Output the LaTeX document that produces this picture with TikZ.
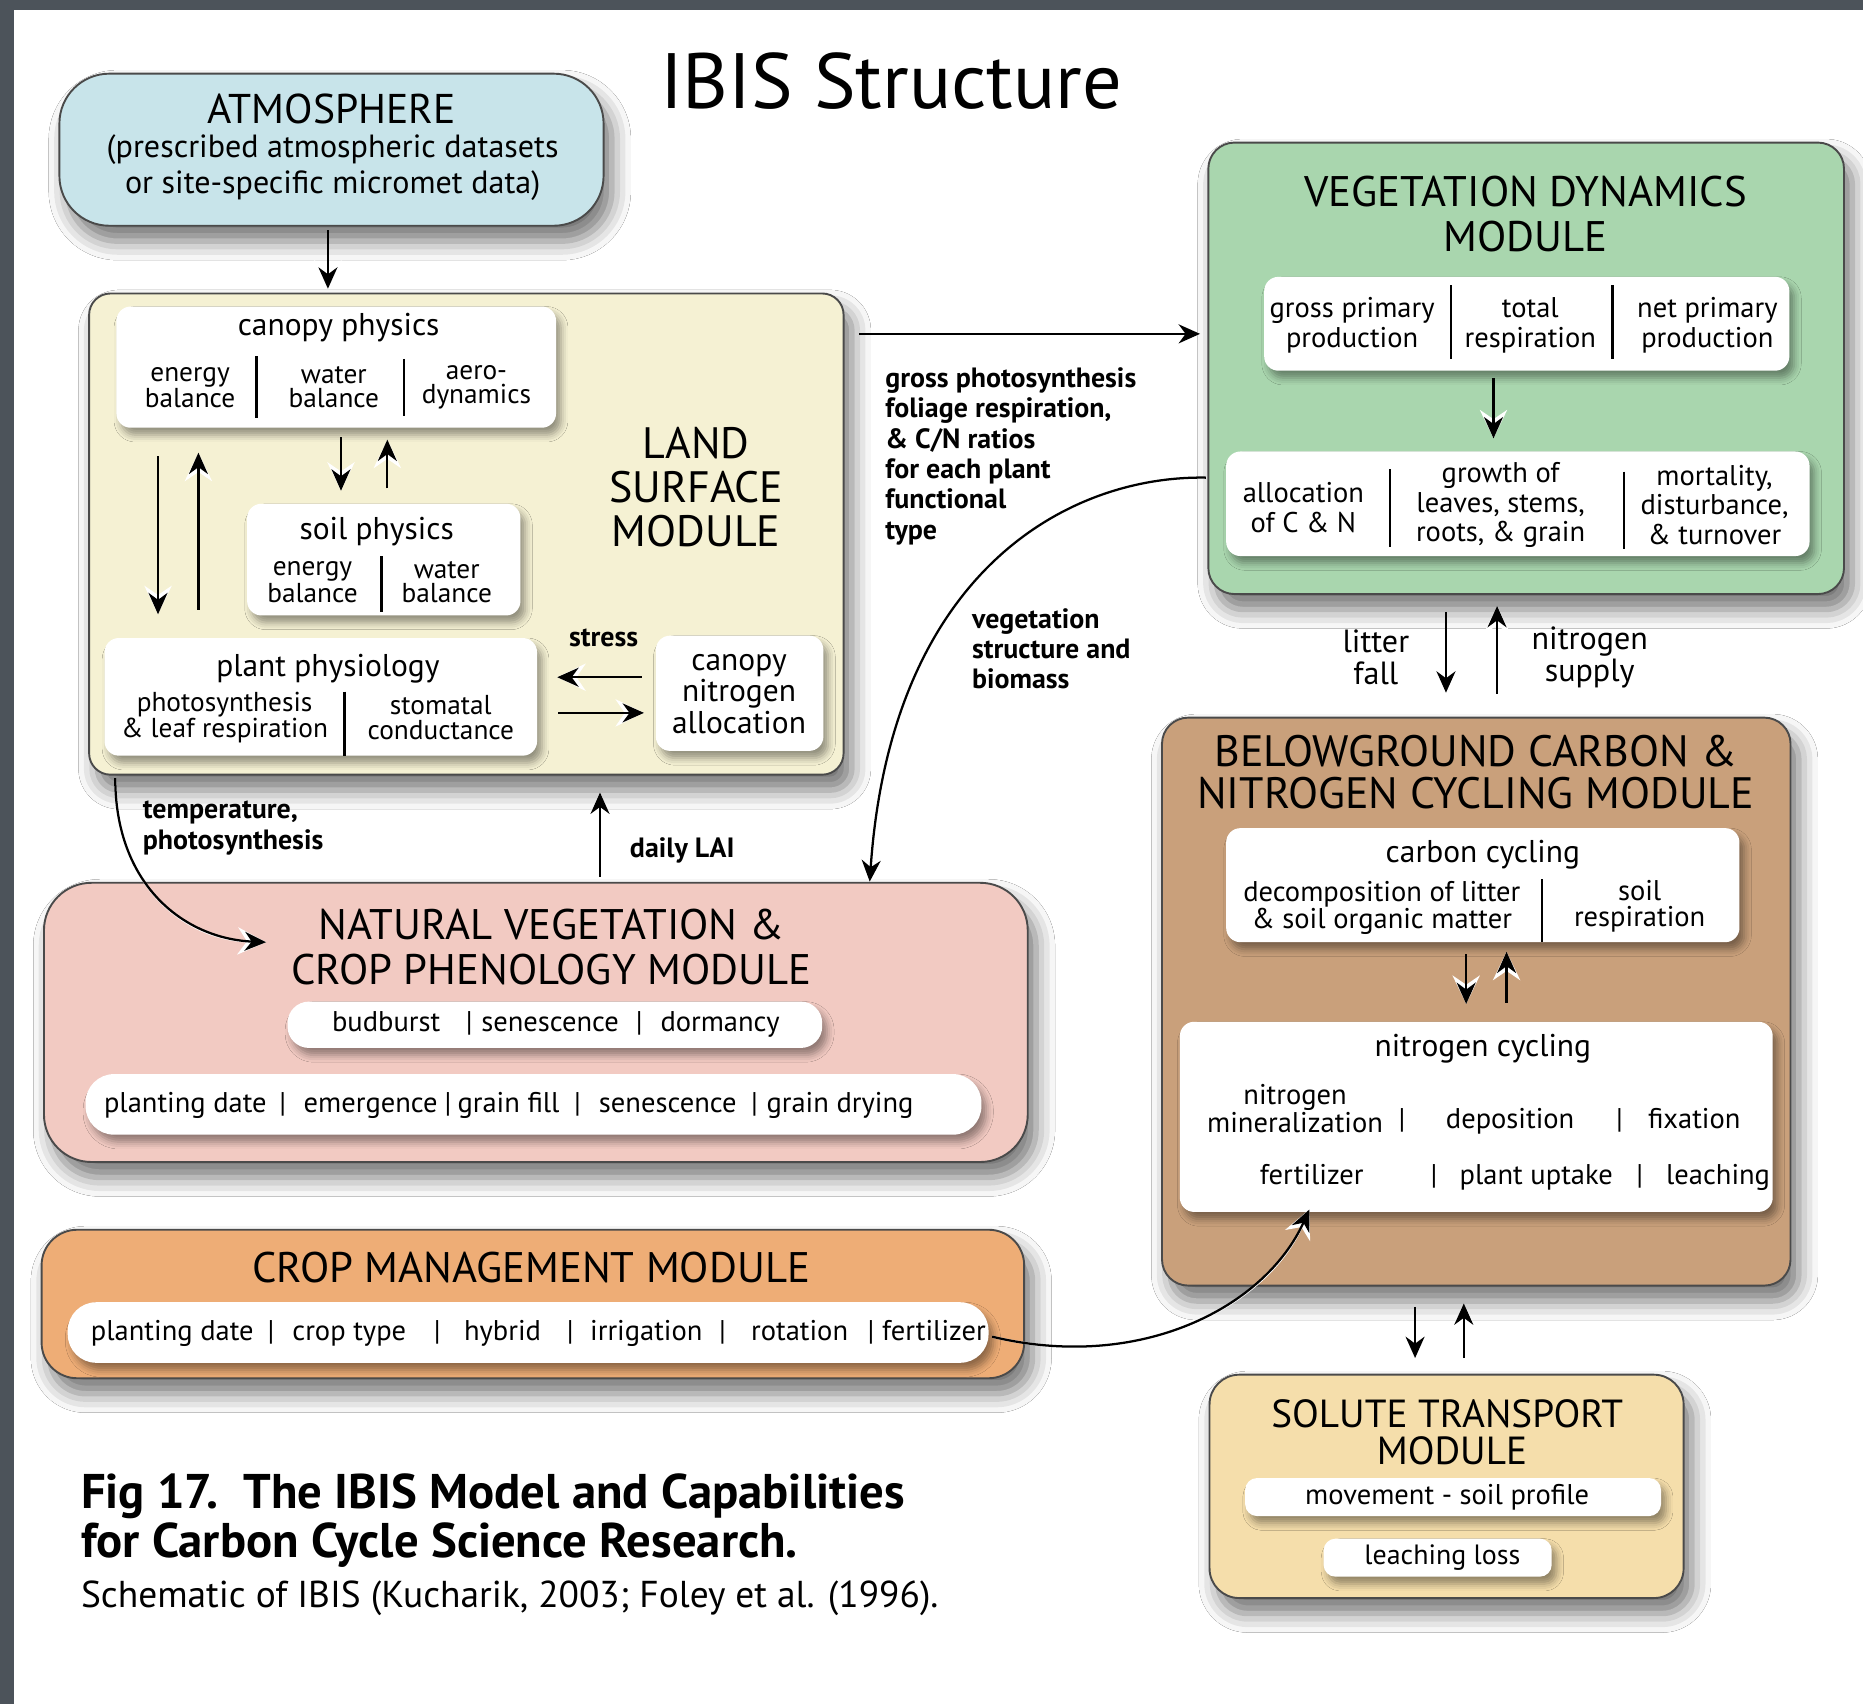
\documentclass[tikz,border=0pt]{standalone}
\usepackage{fontspec}
\setmainfont{PT Sans}
\usetikzlibrary{arrows.meta,shadows.blur}
\definecolor{pagegray}{HTML}{4C535A}
\definecolor{bordc}{HTML}{4A4A4A}
\definecolor{atmc}{HTML}{C8E4EA}
\definecolor{landc}{HTML}{F5F1D3}
\definecolor{vdc}{HTML}{A9D6AE}
\definecolor{bgc}{HTML}{C9A07B}
\definecolor{soluc}{HTML}{F5DEAB}
\definecolor{natc}{HTML}{F2CAC2}
\definecolor{cropc}{HTML}{EEAD76}
\newcommand\fTitle{\fontsize{66}{70}\selectfont}
\newcommand\fMod{\fontsize{36}{38}\selectfont}
\newcommand\fAtm{\fontsize{27}{31}\selectfont}
\newcommand\fSub{\fontsize{26.5}{28}\selectfont}
\newcommand\fItem{\fontsize{23}{20.5}\selectfont}
\newcommand\fItemB{\fontsize{24}{25}\selectfont}
\newcommand\fLab{\bfseries\fontsize{23.5}{25.5}\selectfont}
\newcommand\fMid{\fontsize{27}{27}\selectfont}
\newcommand\fRow{\fontsize{24}{26}\selectfont}
\newcommand\fNit{\fontsize{24}{23}\selectfont}
\begin{document}
\begin{tikzpicture}[x=1pt,y=-1pt,
  mod/.style={draw=bordc, line width=1.6pt, inner sep=0pt, outer sep=0pt, anchor=north west,
    blur shadow={shadow xshift=7pt, shadow yshift=-13pt, shadow blur radius=16pt, shadow opacity=55}},
  wbox/.style={fill=white, draw=none, rounded corners=12pt, inner sep=0pt, outer sep=0pt, anchor=north west,
    blur shadow={shadow xshift=4pt, shadow yshift=-6pt, shadow blur radius=6pt, shadow opacity=40}},
  txt/.style={inner sep=0pt, align=center, text=black},
  rowt/.style={inner sep=0pt, text=black, font=\fRow, text height=17pt, text depth=5pt},
  nitt/.style={inner sep=0pt, text=black, font=\fNit, text height=17pt, text depth=5pt},
  ltxt/.style={inner sep=0pt, align=left, anchor=west, text=black},
  arr/.style={line width=1.9pt, -{Stealth[length=18pt,width=16pt]},
    preaction={draw=white, line width=1.9pt, -{Stealth[length=24pt,width=23pt]}}},
  sepl/.style={line width=2pt}]
\useasboundingbox (0,0) rectangle (1568,1434);
\fill[pagegray] (0,0) rectangle (1568,1434);
\fill[white] (12,8) rectangle (1568,1434);

% title
\node[txt, font=\fTitle] (title) at (750,68) {IBIS Structure};

% ---------- ATMOSPHERE ----------
\node[mod, fill=atmc, rounded corners=42pt, minimum width=458, minimum height=128] (atm) at (50,62) {};
\node[txt, font=\fontsize{35}{37}\selectfont] (atmT) at (279,92) {ATMOSPHERE};
\node[txt, font=\fAtm] (atmD) at (280,141) {(prescribed atmospheric datasets\\or site-specific micromet data)};

% ---------- LAND SURFACE ----------
\node[mod, fill=landc, rounded corners=18pt, minimum width=635, minimum height=405] (land) at (75,247) {};
\node[txt, font=\fontsize{37}{37}\selectfont] (landT) at (586,410) {LAND\\SURFACE\\MODULE};

\node[wbox, minimum width=370, minimum height=102] (canopy) at (98,258) {};
\node[txt, font=\fSub] (canopyT) at (285,276) {canopy physics};
\node[txt, font=\fItem] (cEB) at (160,326) {energy\\balance};
\node[txt, font=\fItem] (cWB) at (281,326) {water\\balance};
\node[txt, font=\fItem] (cAD) at (401,326) {aero-\\dynamics};
\draw[sepl] (216,300) -- (216,352);
\draw[sepl] (340,302) -- (340,350);

\node[wbox, minimum width=230, minimum height=94] (soil) at (208,424) {};
\node[txt, font=\fSub] (soilT) at (317,447) {soil physics};
\node[txt, font=\fItem] (sEB) at (263,490) {energy\\balance};
\node[txt, font=\fItem] (sWB) at (376,490) {water\\balance};
\draw[sepl] (321,468) -- (321,515);

\node[wbox, minimum width=364, minimum height=99] (plant) at (88,537) {};
\node[txt, font=\fSub] (plantT) at (276,563) {plant physiology};
\node[txt, font=\fItem] (pPS) at (189,604) {photosynthesis\\\& leaf respiration};
\node[txt, font=\fItem] (pSC) at (371,604) {stomatal\\conductance};
\draw[sepl] (290,582) -- (290,636);

\node[wbox, minimum width=141, minimum height=97] (cna) at (552,535) {};
\node[txt, font=\fontsize{26.5}{26.5}\selectfont] (cnaT) at (622,584) {canopy\\nitrogen\\allocation};
\node[txt, font=\fLab] (stress) at (508,537) {stress};

% ---------- VEGETATION DYNAMICS ----------
\node[mod, fill=vdc, rounded corners=22pt, minimum width=535, minimum height=380] (vd) at (1017,120) {};
\node[txt, font=\fMod] (vdT) at (1284,180) {VEGETATION DYNAMICS\\MODULE};
\node[wbox, minimum width=442, minimum height=79] (gpp) at (1064,233) {};
\node[txt, font=\fItemB] (gppA) at (1138,274) {gross primary\\production};
\node[txt, font=\fItemB] (gppB) at (1288,274) {total\\respiration};
\node[txt, font=\fItemB] (gppC) at (1437,274) {net primary\\production};
\draw[sepl] (1221,240) -- (1221,302);
\draw[sepl] (1357,240) -- (1357,302);
\node[wbox, minimum width=491, minimum height=88] (alloc) at (1032,380) {};
\node[txt, font=\fItemB] (alA) at (1097,427) {allocation\\of C \& N};
\node[txt, font=\fItemB] (alB) at (1263,425) {growth of\\leaves, stems,\\roots, \& grain};
\node[txt, font=\fItemB] (alC) at (1443,425) {mortality,\\disturbance,\\\& turnover};
\draw[sepl] (1170,395) -- (1170,460);
\draw[sepl] (1367,397) -- (1367,462);

\node[ltxt, font=\fLab] (gpLab) at (745,384) {gross photosynthesis\\foliage respiration,\\\& C/N ratios\\for each plant\\functional\\type};
\node[ltxt, font=\fLab] (vsLab) at (818,546) {vegetation\\structure and\\biomass};
\node[txt, font=\fMid] (litLab) at (1158,553) {litter\\fall};
\node[txt, font=\fMid] (nsLab) at (1338,553) {nitrogen\\supply};

% ---------- BELOWGROUND ----------
\node[mod, fill=bgc, rounded corners=22pt, minimum width=529, minimum height=478] (bg) at (978,604) {};
\node[txt, font=\fontsize{37}{35}\selectfont] (bgT) at (1242,650) {BELOWGROUND CARBON \&\\NITROGEN CYCLING MODULE};
\node[wbox, minimum width=432, minimum height=96] (carb) at (1032,697) {};
\node[txt, font=\fSub] (carbT) at (1248,719) {carbon cycling};
\node[txt, font=\fNit] (carbA) at (1163,764) {decomposition of litter\\\& soil organic matter};
\node[txt, font=\fontsize{24}{22}\selectfont] (carbB) at (1380,763) {soil\\respiration};
\draw[sepl] (1298,740) -- (1298,793);

\node[wbox, minimum width=499, minimum height=160] (nitro) at (993,860) {};
\node[txt, font=\fSub] (nitroT) at (1248,883) {nitrogen cycling};
\node[txt, font=\fNit] (nMin) at (1090,933) {nitrogen\\mineralization};
\node[nitt] (nS1) at (1180,944) {|};
\node[nitt] (nDep) at (1271,944) {deposition};
\node[nitt] (nS2) at (1363,944) {|};
\node[nitt] (nFix) at (1426,944) {fixation};
\node[nitt] (nFer) at (1104,991) {fertilizer};
\node[nitt] (nS3) at (1207,991) {|};
\node[nitt] (nUp) at (1293,991) {plant uptake};
\node[nitt] (nS4) at (1380,991) {|};
\node[nitt] (nLea) at (1446,991) {leaching};

% ---------- SOLUTE ----------
\node[mod, fill=soluc, rounded corners=25pt, minimum width=399, minimum height=188] (sol) at (1018,1157) {};
\node[txt, font=\fontsize{33}{33}\selectfont] (solT1) at (1218,1190) {SOLUTE TRANSPORT};
\node[txt, font=\fontsize{33}{33}\selectfont] (solT2) at (1222,1221) {MODULE};
\node[wbox, rounded corners=10pt, minimum width=350, minimum height=32] (mov) at (1048,1244) {};
\node[txt, font=\fontsize{24}{24}\selectfont] (movT) at (1218,1260) {movement - soil profile};
\node[wbox, rounded corners=10pt, minimum width=192, minimum height=32] (lea) at (1114,1295) {};
\node[txt, font=\fontsize{23.5}{24}\selectfont] (leaT) at (1214,1311) {leaching loss};

% ---------- NATURAL VEGETATION ----------
\node[mod, fill=natc, rounded corners=40pt, minimum width=828, minimum height=235] (nat) at (37,743) {};
\node[txt, font=\fMod] (natT) at (464,797) {NATURAL VEGETATION \&\\CROP PHENOLOGY MODULE};
\node[wbox, rounded corners=18pt, minimum width=450, minimum height=39] (bud) at (242,843) {};
\node[rowt] (budA) at (325,862) {budburst};
\node[rowt] (budS1) at (395,862) {|};
\node[rowt] (budB) at (463,862) {senescence};
\node[rowt] (budS2) at (538,862) {|};
\node[rowt] (budC) at (606,862) {dormancy};
\node[wbox, rounded corners=24pt, minimum width=754, minimum height=51] (cphen) at (72,904) {};
\node[rowt] (phA) at (156,930) {planting date};
\node[rowt] (phS1) at (238,930) {|};
\node[rowt] (phB) at (312,930) {emergence};
\node[rowt] (phS2) at (377,930) {|};
\node[rowt] (phC) at (428,930) {grain fill};
\node[rowt] (phS3) at (486,930) {|};
\node[rowt] (phD) at (562,930) {senescence};
\node[rowt] (phS4) at (635,930) {|};
\node[rowt] (phE) at (707,930) {grain drying};

\node[ltxt, font=\fLab] (tempLab) at (120,697) {temperature,\\photosynthesis};
\node[ltxt, font=\fLab] (laiLab) at (530,716) {daily LAI};

% ---------- CROP MANAGEMENT ----------
\node[mod, fill=cropc, rounded corners=30pt, minimum width=827, minimum height=125] (crop) at (35,1035) {};
\node[txt, font=\fMod] (cropT) at (447,1067) {CROP MANAGEMENT MODULE};
\node[wbox, rounded corners=24pt, minimum width=775, minimum height=51] (cropI) at (57,1096) {};
\node[rowt] (crA) at (145,1122) {planting date};
\node[rowt] (crS1) at (228,1122) {|};
\node[rowt] (crB) at (294,1122) {crop type};
\node[rowt] (crS2) at (368,1122) {|};
\node[rowt] (crC) at (423,1122) {hybrid};
\node[rowt] (crS3) at (480,1122) {|};
\node[rowt] (crD) at (544,1122) {irrigation};
\node[rowt] (crS4) at (608,1122) {|};
\node[rowt] (crE) at (673,1122) {rotation};
\node[rowt] (crS5) at (733,1122) {|};
\node[rowt] (crF) at (786,1122) {fertilizer};

% ---------- caption ----------
\node[ltxt, font=\bfseries\fontsize{41}{41}\selectfont] (cap1) at (68,1280) {Fig 17.\ \ The IBIS Model and Capabilities\\for Carbon Cycle Science Research.};
\node[ltxt, font=\fontsize{31.5}{32}\selectfont] (cap2) at (68,1345) {Schematic of IBIS (Kucharik, 2003; Foley et al. (1996).};

% ---------- connector endpoints ----------
\coordinate (aAs) at (276,194);  \coordinate (aAe) at (276,243);
\coordinate (cDs) at (287,368);  \coordinate (cDe) at (287,413);
\coordinate (cUs) at (326,411);  \coordinate (cUe) at (326,370);
\coordinate (lDs) at (133,384);  \coordinate (lDe) at (133,517);
\coordinate (lUs) at (167,513);  \coordinate (lUe) at (167,381);
\coordinate (stLs) at (540,570); \coordinate (stLe) at (469,570);
\coordinate (stRs) at (470,600); \coordinate (stRe) at (542,600);
\coordinate (lvS) at (723,281);  \coordinate (lvE) at (1010,281);
\coordinate (gaS) at (1257,318); \coordinate (gaE) at (1257,369);
\coordinate (vsS) at (1015,402); \coordinate (vsE) at (732,742);
\coordinate (lfS) at (1217,515); \coordinate (lfE) at (1217,583);
\coordinate (nsS) at (1260,584); \coordinate (nsE) at (1260,510);
\coordinate (ccDs) at (1234,803); \coordinate (ccDe) at (1234,845);
\coordinate (ccUs) at (1268,844); \coordinate (ccUe) at (1268,801);
\coordinate (bsDs) at (1191,1100); \coordinate (bsDe) at (1191,1143);
\coordinate (bsUs) at (1232,1143); \coordinate (bsUe) at (1232,1097);
\coordinate (tpS) at (97,655);   \coordinate (tpE) at (224,793);
\coordinate (laiS) at (505,738); \coordinate (laiE) at (505,667);
\coordinate (fzS) at (835,1125); \coordinate (fzE) at (1102,1018);

% ---------- connectors ----------
\draw[arr] (aAs) -- (aAe);
\draw[arr] (cDs) -- (cDe);
\draw[arr] (cUs) -- (cUe);
\draw[arr] (lDs) -- (lDe);
\draw[arr] (lUs) -- (lUe);
\draw[arr] (stLs) -- (stLe);
\draw[arr] (stRs) -- (stRe);
\draw[arr] (lvS) -- (lvE);
\draw[arr] (gaS) -- (gaE);
\draw[arr] (vsS) .. controls (900,400) and (750,480) .. (vsE);
\draw[arr] (lfS) -- (lfE);
\draw[arr] (nsS) -- (nsE);
\draw[arr] (ccDs) -- (ccDe);
\draw[arr] (ccUs) -- (ccUe);
\draw[arr] (bsDs) -- (bsDe);
\draw[arr] (bsUs) -- (bsUe);
\draw[arr] (tpS) .. controls (97,745) and (155,790) .. (tpE);
\draw[arr] (laiS) -- (laiE);
\draw[arr] (fzS) .. controls (960,1155) and (1065,1100) .. (fzE);
\end{tikzpicture}
\end{document}
